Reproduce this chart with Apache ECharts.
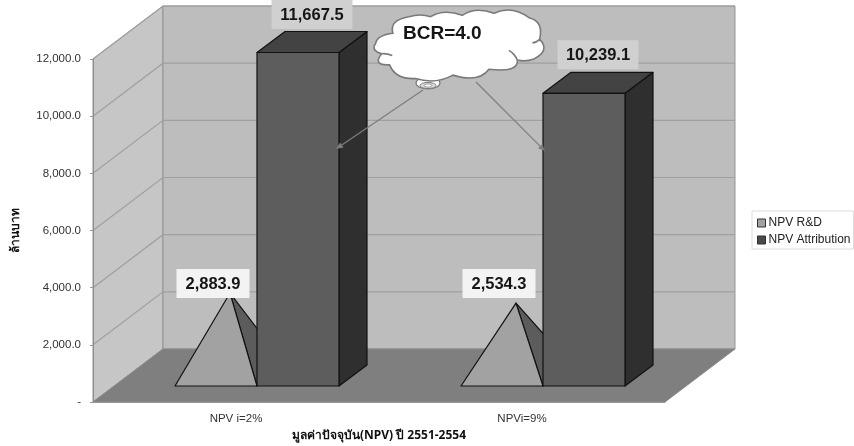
<!DOCTYPE html>
<html><head><meta charset="utf-8">
<style>html,body{margin:0;padding:0;background:#fff}#c{width:854px;height:446px}</style>
<script src="https://cdn.jsdelivr.net/npm/echarts@6/dist/echarts.min.js"></script>
</head><body><div id="c"></div>
<script>
const categories = ['NPV i=2%', 'NPVi=9%'];
const rdValues = [2883.9, 2534.3];
const attributionValues = [11667.5, 10239.1];
const gridValues = [0, 2000, 4000, 6000, 8000, 10000, 12000];
const seriesNames = ['NPV R&D', 'NPV Attribution'];
const yAxisName = 'ล้านบาท';
const xAxisName = 'มูลค่าปัจจุบัน(NPV) ปี 2551-2554';
const cloudText = 'BCR=4.0';

const FONT = '"Liberation Sans", Arial, sans-serif';
const WALL_DX = 70, WALL_DY = 53;   // 3D depth of the chart box
const BAR_DX = 28, BAR_DY = 21;     // 3D depth of each bar
const GAP_DX = 21, GAP_DY = 16;     // bar base offset from the front floor edge
const BAR_W = 82;
const fmt = v => v.toLocaleString('en-US', {minimumFractionDigits: 1, maximumFractionDigits: 1});

function labelEl(cx, bottom, w, text, bg) {
  return [
    {type: 'rect', shape: {x: cx - w / 2, y: bottom - 29, width: w, height: 29}, style: {fill: bg}},
    {type: 'text', style: {x: cx, y: bottom - 14, text, align: 'center', verticalAlign: 'middle',
      fill: '#151515', font: 'bold 16.5px ' + FONT}}
  ];
}

function renderWalls(params, api) {
  const g = params.coordSys, v = api.value(0);
  const xl = g.x, xr = g.x + g.width;
  const yv = api.coord([0, v])[1];
  const kids = [];
  if (params.dataIndex === 0) {
    const top = g.y, bot = g.y + g.height;
    kids.push({type: 'polygon', shape: {points: [[xl, top], [xl + WALL_DX, top - WALL_DY], [xl + WALL_DX, bot - WALL_DY], [xl, bot]]},
      style: {fill: '#c6c6c6', stroke: '#8e8e8e', lineWidth: 1}});
    kids.push({type: 'rect', shape: {x: xl + WALL_DX, y: top - WALL_DY, width: g.width, height: g.height},
      style: {fill: '#bdbdbd', stroke: '#959595', lineWidth: 1}});
    kids.push({type: 'polygon', shape: {points: [[xl, bot], [xr, bot], [xr + WALL_DX, bot - WALL_DY], [xl + WALL_DX, bot - WALL_DY]]},
      style: {fill: '#7f7f7f', stroke: '#8a8a8a', lineWidth: 1}});
  } else {
    kids.push({type: 'polyline', shape: {points: [[xl, yv], [xl + WALL_DX, yv - WALL_DY], [xr + WALL_DX, yv - WALL_DY]]},
      style: {fill: 'none', stroke: '#a0a0a0', lineWidth: 1.2}});
  }
  return {type: 'group', children: kids};
}

function renderPyramid(params, api) {
  const c = api.coord([api.value(0), api.value(1)]);
  const base = api.coord([api.value(0), 0]);
  const h = base[1] - c[1];
  const xr = base[0] + GAP_DX, xl = xr - BAR_W, y0 = base[1] - GAP_DY;
  const ax = xl + BAR_W / 2 + BAR_DX / 2, ay = y0 - BAR_DY / 2 - h;
  const line = {stroke: '#111', lineWidth: 1.2, lineJoin: 'round'};
  return {type: 'group', children: [
    {type: 'polygon', shape: {points: [[ax, ay], [xr, y0], [xr + BAR_DX, y0 - BAR_DY]]}, style: {fill: '#5c5c5c', ...line}},
    {type: 'polygon', shape: {points: [[ax, ay], [xl, y0], [xr, y0]]}, style: {fill: '#a2a2a2', ...line}}
  ]};
}

function renderColumn(params, api) {
  const c = api.coord([api.value(0), api.value(1)]);
  const base = api.coord([api.value(0), 0]);
  const h = base[1] - c[1];
  const xl = base[0] + GAP_DX, xr = xl + BAR_W, y0 = base[1] - GAP_DY, yt = y0 - h;
  const line = {stroke: '#111', lineWidth: 1.2, lineJoin: 'round'};
  return {type: 'group', children: [
    {type: 'polygon', shape: {points: [[xr, y0], [xr + BAR_DX, y0 - BAR_DY], [xr + BAR_DX, yt - BAR_DY], [xr, yt]]}, style: {fill: '#2f2f2f', ...line}},
    {type: 'polygon', shape: {points: [[xl, yt], [xr, yt], [xr + BAR_DX, yt - BAR_DY], [xl + BAR_DX, yt - BAR_DY]]}, style: {fill: '#434343', ...line}},
    {type: 'rect', shape: {x: xl, y: yt, width: BAR_W, height: h}, style: {fill: '#5d5d5d', ...line}}
  ]};
}

function renderLabelsColumn(params, api) {
  const c = api.coord([api.value(0), api.value(1)]);
  const base = api.coord([api.value(0), 0]);
  const h = base[1] - c[1];
  const cx = base[0] + GAP_DX + BAR_W / 2 + BAR_DX / 2;
  const bottom = base[1] - GAP_DY - h - BAR_DY - 3;
  return {type: 'group', children: labelEl(cx, Math.max(bottom, 29), 81, fmt(api.value(1)), '#d0d0d0')};
}
function renderLabelsPyramid(params, api) {
  const base = api.coord([api.value(0), 0]);
  const cx = base[0] + GAP_DX - BAR_W / 2 - 3;
  return {type: 'group', children: labelEl(cx, base[1] - 104, 73, fmt(api.value(1)), '#f3f3f3')};
}

const cloudPath = 'M30,130 Q35,105 82,100 Q70,62 130,52 Q165,42 195,52 Q235,28 290,48 Q330,22 385,42 Q440,18 490,55 Q535,65 522,118 Q555,150 505,175 Q480,184 455,178 Q460,215 370,205 Q340,245 262,222 Q210,250 150,232 Q90,235 72,192 Q20,195 48,160 Q15,150 30,130 Z M455,178 Q448,160 430,150 M522,118 Q512,128 500,128 M48,160 Q62,158 80,165';
function renderCloud(params, api) {
  return {type: 'group', children: [
    {type: 'path', shape: {pathData: cloudPath, x: 374, y: 10, width: 170, height: 71, layout: 'cover'},
      style: {fill: '#fff', stroke: '#7a7a7a', lineWidth: 1.6}},
    {type: 'text', style: {x: 403, y: 34, text: cloudText, fill: '#151515', verticalAlign: 'middle', font: 'bold 19px ' + FONT}}
  ]};
}

const zip = vals => categories.map((c, i) => [c, vals[i]]);
const arrow = (x1, y1, x2, y2) => {
  const a = Math.atan2(y2 - y1, x2 - x1), L = 7, W = 3;
  const bx = x2 - L * Math.cos(a), by = y2 - L * Math.sin(a);
  return [
    {type: 'line', z: 50, shape: {x1, y1, x2: bx, y2: by}, style: {stroke: '#7d7d7d', lineWidth: 1.2}},
    {type: 'polygon', z: 50, shape: {points: [[x2, y2], [bx - W * Math.sin(a), by + W * Math.cos(a)], [bx + W * Math.sin(a), by - W * Math.cos(a)]]}, style: {fill: '#7d7d7d'}}
  ];
};

const chart = echarts.init(document.getElementById('c'), null, {renderer: 'canvas'});
chart.setOption({
  animation: false,
  backgroundColor: '#fff',
  textStyle: {fontFamily: FONT},
  grid: {left: 93, top: 59, width: 572, height: 343, containLabel: false, outerBoundsMode: 'none'},
  legend: {
    left: 752, top: 211, orient: 'vertical', padding: [6, 3, 3, 5], itemGap: 5, itemWidth: 8, itemHeight: 8,
    borderColor: '#dcdcdc', borderWidth: 1, icon: 'rect',
    itemStyle: {borderColor: '#333', borderWidth: 1},
    data: seriesNames,
    textStyle: {fontFamily: FONT, fontSize: 12, color: '#222', padding: [0, 0, 0, -2]}
  },
  xAxis: {
    type: 'category', data: categories,
    name: xAxisName, nameLocation: 'middle', nameGap: 28,
    nameTextStyle: {fontSize: 12, fontWeight: 'bold', color: '#111', fontFamily: '"Noto Sans", ' + FONT},
    axisLine: {lineStyle: {color: '#999'}},
    axisTick: {length: 5, lineStyle: {color: '#999'}},
    axisLabel: {fontSize: 11.5, color: '#333', margin: 11}
  },
  yAxis: {
    type: 'value', min: 0, max: 12000, interval: 2000,
    name: yAxisName, nameLocation: 'middle', nameGap: 71, nameRotate: 90,
    nameTextStyle: {fontSize: 12, fontWeight: 'bold', color: '#111', fontFamily: '"Noto Sans", ' + FONT},
    axisLine: {show: true, lineStyle: {color: '#8e8e8e'}},
    axisTick: {show: true, length: 3, lineStyle: {color: '#999'}},
    splitLine: {show: false},
    axisLabel: {fontSize: 11.5, color: '#333', margin: 12, formatter: v => v === 0 ? '-' : fmt(v)}
  },
  series: [
    {type: 'custom', name: 'walls', z: 0, silent: true, data: gridValues.map(v => [v]), encode: {y: 0}, renderItem: renderWalls},
    {type: 'custom', name: seriesNames[0], z: 3, data: zip(rdValues), encode: {x: 0, y: 1}, renderItem: renderPyramid, itemStyle: {color: '#a2a2a2', borderColor: '#333'}},
    {type: 'custom', name: seriesNames[1], z: 4, data: zip(attributionValues), encode: {x: 0, y: 1}, renderItem: renderColumn, itemStyle: {color: '#4a4a4a', borderColor: '#222'}},
    {type: 'custom', name: 'labelsRd', z: 5, silent: true, data: zip(rdValues), encode: {x: 0, y: 1}, renderItem: renderLabelsPyramid},
    {type: 'custom', name: 'labelsAttr', z: 5, silent: true, data: zip(attributionValues), encode: {x: 0, y: 1}, renderItem: renderLabelsColumn},
    {type: 'custom', name: 'cloud', z: 100, silent: true, data: [[cloudText]], renderItem: renderCloud}
  ],
  graphic: {elements: [
    ...arrow(423, 90, 336, 149),
    ...arrow(476, 82, 545, 151),
    {type: 'ellipse', z: 60, shape: {cx: 428, cy: 83, rx: 12, ry: 6}, style: {fill: '#fff', stroke: '#777', lineWidth: 1.2}},
    {type: 'ellipse', z: 61, shape: {cx: 428, cy: 85.5, rx: 8, ry: 3}, style: {fill: '#ddd', stroke: '#777', lineWidth: 1}},
    {type: 'ellipse', z: 62, shape: {cx: 428, cy: 85.5, rx: 4, ry: 1.5}, style: {fill: '#fff', stroke: '#888', lineWidth: 0.8}}
  ]}
});
</script></body></html>
